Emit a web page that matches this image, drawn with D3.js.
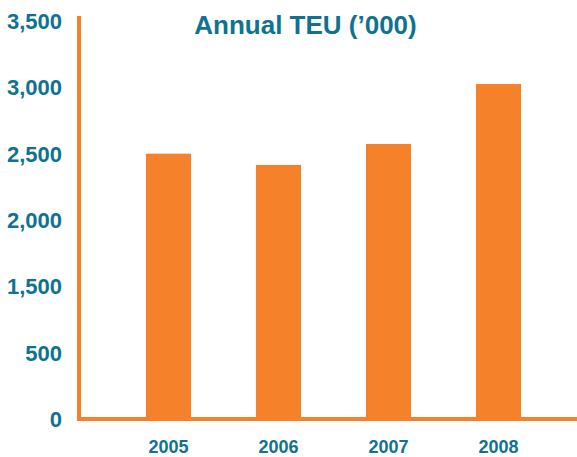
<!DOCTYPE html>
<html>
<head>
<meta charset="utf-8">
<script src="https://cdn.jsdelivr.net/npm/d3@7"></script>
<style>
  body { margin: 0; background: #fff; }
  text { font-family: "Liberation Sans", Arial, sans-serif; font-weight: bold; fill: #0e7290; }
</style>
</head>
<body>
<svg id="chart" width="577" height="457"></svg>
<script>
// values in '000 TEU
const years = ["2005", "2006", "2007", "2008"];
const teu = [2500, 2415, 2573, 3025];

// the original axis skips 1,000, so labels sit one step off the grid
const yTicks = [500, 1000, 1500, 2000, 2500, 3000, 3500];
const yTickLabels = ["0", "500", "1,500", "2,000", "2,500", "3,000", "3,500"];

const orange = "#f5822a";
const svg = d3.select("#chart");

const x = d3.scaleBand()
  .domain(years)
  .range([113.5, 553.5])
  .paddingInner(0.59)
  .paddingOuter(0.295);

const y = d3.scaleLinear()
  .domain([500, 3500])
  .range([419, 21]);

// bars
svg.append("g")
  .selectAll("rect")
  .data(years)
  .join("rect")
  .attr("x", d => x(d))
  .attr("width", x.bandwidth())
  .attr("y", (d, i) => y(teu[i]))
  .attr("height", (d, i) => y(500) - y(teu[i]))
  .attr("fill", orange);

// axis lines
svg.append("line")
  .attr("x1", 79).attr("x2", 79)
  .attr("y1", 16).attr("y2", y(500) + 2)
  .attr("stroke", orange).attr("stroke-width", 4);

svg.append("line")
  .attr("x1", 77).attr("x2", 577)
  .attr("y1", y(500)).attr("y2", y(500))
  .attr("stroke", orange).attr("stroke-width", 4);

// y labels
svg.append("g")
  .selectAll("text")
  .data(yTicks)
  .join("text")
  .attr("x", 62)
  .attr("y", d => y(d))
  .attr("dy", "0.36em")
  .attr("text-anchor", "end")
  .style("font-size", "22px")
  .text((d, i) => yTickLabels[i]);

// x labels
svg.append("g")
  .selectAll("text")
  .data(years)
  .join("text")
  .attr("x", d => x(d) + x.bandwidth() / 2)
  .attr("y", 453)
  .attr("text-anchor", "middle")
  .style("font-size", "18px")
  .text(d => d);

// title
svg.append("text")
  .attr("x", 305.5)
  .attr("y", 34)
  .attr("text-anchor", "middle")
  .style("font-size", "26px")
  .text("Annual TEU (\u2019000)");
</script>
</body>
</html>
